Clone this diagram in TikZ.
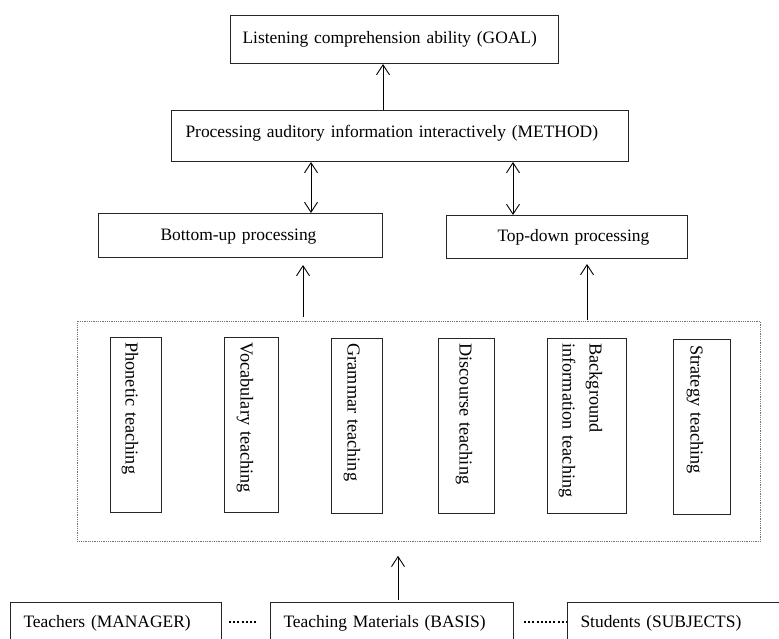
\documentclass[tikz,border=0pt]{standalone}
\usepackage{fontspec}
\setmainfont{Liberation Serif}
\usetikzlibrary{arrows.meta,calc}
\begin{document}
\begin{tikzpicture}[x=1bp,y=-1bp,
  box/.style={draw=black!85, line width=1bp, anchor=north west, inner sep=0pt, align=left,
    font=\fontsize{17.5}{21}\selectfont},
  vbox/.style={draw=black!85, line width=1bp, rotate=-90, anchor=north west, inner sep=0pt,
    align=left, text width=175bp, font=\fontsize{18.3}{27}\selectfont},
  tip/.tip={Straight Barb[length=10bp,width=13bp]},
  arr/.style={line width=0.9bp, -tip},
  darr/.style={line width=0.9bp, tip-tip},
  dotbox/.style={draw=black!55, line width=0.8bp, densely dotted},
  dotline/.style={line width=2bp, dash pattern=on 2bp off 2.2bp}
]
\useasboundingbox (0,0) rectangle (779,639);
\clip (0,0) rectangle (779,639);

% top level
\node[box, text width=328bp, text height=28bp, text depth=20bp] (goal) at (230,15)
  {\hspace*{12bp}Listening comprehension ability (GOAL)};
\node[box, text width=457bp, text height=27bp, text depth=24bp] (method) at (171,110)
  {\hspace*{14bp}Processing auditory information interactively (METHOD)};
\node[box, text width=284bp, text height=27bp, text depth=17bp] (bu) at (98,213)
  {\hspace*{62bp}Bottom-up processing};
\node[box, text width=241bp, text height=26bp, text depth=17bp] (td) at (446,215)
  {\hspace*{51bp}Top-down processing};

% dotted container
\node[dotbox, anchor=north west, minimum width=683bp, minimum height=220bp, inner sep=0pt] (tm) at (77,321) {};

% vertical boxes
\node[vbox, text height=36bp, text depth=15bp] (pho) at (162,337) {\hspace*{5bp}Phonetic teaching};
\node[vbox, text height=38bp, text depth=16bp] (voc) at (279,337) {\hspace*{5bp}Vocabulary teaching};
\node[vbox, text height=35bp, text depth=16bp] (gra) at (383,338) {\hspace*{5bp}Grammar teaching};
\node[vbox, text height=35bp, text depth=21bp] (dis) at (495,338) {\hspace*{5bp}Discourse teaching};
\node[vbox, text height=37bp, text depth=42bp] (bac) at (627,338) {\hspace*{5bp}Background\\\hspace*{5bp}information teaching};
\node[vbox, text height=40bp, text depth=17bp] (str) at (731,339) {\hspace*{6bp}Strategy teaching};

% bottom row
\node[box, text width=211bp, text height=25bp, text depth=50bp] (teach) at (10,602)
  {\hspace*{13bp}Teachers (MANAGER)};
\node[box, text width=243bp, text height=25bp, text depth=50bp] (mat) at (270,602)
  {\hspace*{13bp}Teaching Materials (BASIS)};
\node[box, text width=230bp, text height=25bp, text depth=50bp] (stu) at (567,602)
  {\hspace*{13bp}Students (SUBJECTS)};

% connectors
\coordinate (g1) at ($(method.north west)+(212,0)$);
\draw[arr] (g1) -- (g1 |- goal.south);
\coordinate (d1) at ($(method.south west)+(140,0)$);
\draw[darr] (d1) -- (d1 |- bu.north);
\coordinate (d2) at ($(method.south west)+(342,0)$);
\draw[darr] (d2) -- (d2 |- td.north);
\coordinate (u1) at ($(tm.north west)+(226,0)$);
\draw[arr, shorten <=4bp, shorten >=7bp] (u1) -- (u1 |- bu.south);
\coordinate (u2) at ($(tm.north west)+(510,0)$);
\draw[arr, shorten <=1bp, shorten >=5bp] (u2) -- (u2 |- td.south);
\coordinate (b1) at ($(mat.north west)+(128,0)$);
\draw[arr, shorten <=2bp, shorten >=14bp] (b1) -- (b1 |- tm.south);

\draw[dotline] ($(teach.north east)+(7,20)$) -- ($(mat.north west)+(-12,20)$);
\draw[dotline] ($(mat.north east)+(10,20)$) -- ($(stu.north west)+(0,20)$);
\end{tikzpicture}
\end{document}
